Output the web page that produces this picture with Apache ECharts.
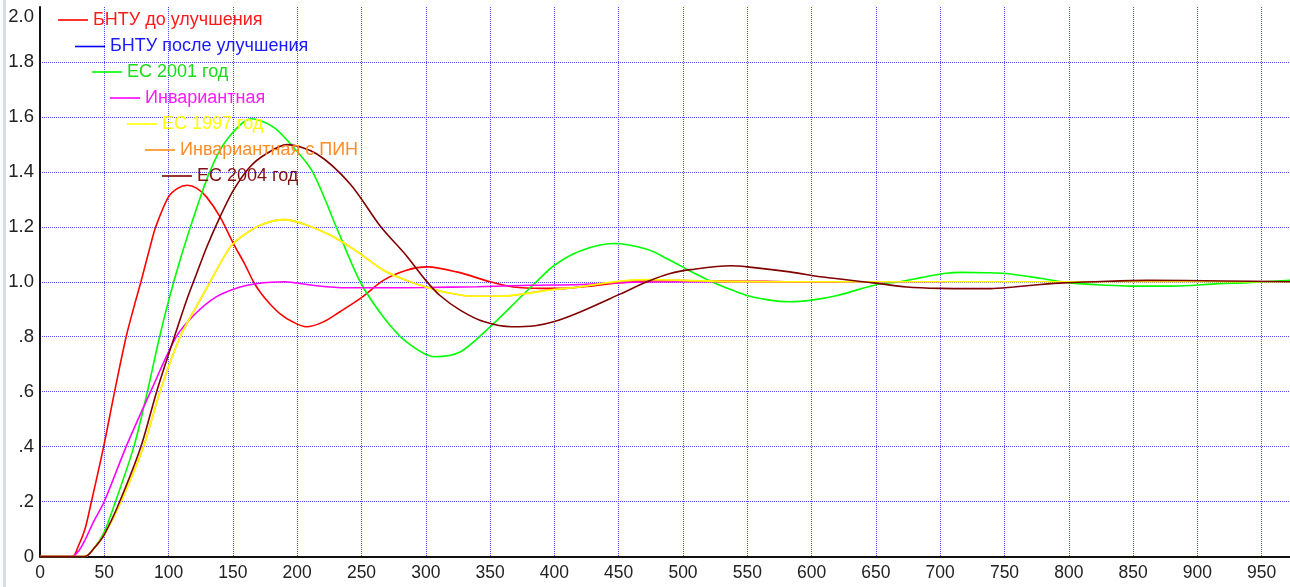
<!DOCTYPE html>
<html>
<head>
<meta charset="utf-8">
<script src="https://cdn.jsdelivr.net/npm/echarts@6/dist/echarts.min.js"></script>
<style>
html,body{margin:0;padding:0;background:#fff;}
#chart{width:1290px;height:587px;}
</style>
</head>
<body>
<div id="chart"></div>
<script>
// ---- data (x = time, y = response) ----
const seriesNames = ['БНТУ до улучшения','БНТУ после улучшения','ЕС 2001 год','Инвариантная','ЕС 1997 год','Инвариантная с ПИН','ЕС 2004 год'];
const seriesColors = ['#ff0000','#0000ff','#00ff00','#ff00ff','#ffff00','#ff8c1a','#800000'];
const legendTextColors = ['#ff1a1a','#1a1aff','#1adb1a','#ff1aff','#ffff00','#ff8c28','#801010'];

const xTickLabels = ['0','50','100','150','200','250','300','350','400','450','500','550','600','650','700','750','800','850','900','950'];
const yTickLabels = ['0','.2','.4','.6','.8','1.0','1.2','1.4','1.6','1.8','2.0'];

const bntuBefore = [[0,0],[25,0],[30,0.04],[35,0.1],[40,0.2],[49.5,0.4],[58,0.6],[67,0.8],[74.5,0.933],[78.5,1.0],[85.6,1.127],[90,1.2],[99.8,1.308],[107,1.34],[114.5,1.351],[122,1.34],[129.6,1.308],[140,1.236],[150.4,1.139],[159,1.066],[166,1.0],[172,0.957],[179,0.918],[187,0.882],[196,0.855],[207,0.836],[220,0.853],[233,0.89],[250,0.942],[267,1.005],[285,1.042],[301,1.054],[324,1.036],[350,1.0],[368,0.981],[390,0.976],[407,0.976],[430,0.985],[450,0.996],[480,1.003],[530,1.003],[580,1.0],[621,0.998]];
const bntuAfter = [];
const ec2001 = [[0,0],[35,0],[42,0.03],[50,0.09],[58.7,0.2],[73,0.4],[83.5,0.6],[93,0.8],[104,1.0],[117,1.2],[132,1.4],[145,1.515],[164.6,1.593],[181.5,1.563],[197,1.49],[212,1.4],[233,1.17],[249,1.0],[267,0.872],[285,0.781],[307,0.727],[327,0.745],[350,0.836],[375,0.95],[386,1.0],[400,1.06],[420,1.112],[446,1.139],[472,1.118],[490,1.078],[505,1.04],[521,1.003],[532,0.981],[549,0.951],[565,0.935],[583,0.927],[600,0.933],[620,0.95],[651,0.99],[669,1.0],[685,1.015],[703,1.03],[717,1.034],[735,1.033],[751,1.03],[779,1.012],[801,0.996],[830,0.987],[847,0.984],[881,0.984],[916,0.993],[936,0.996],[972,1.005]];
const invariant = [[0,0],[25,0],[30,0.02],[35,0.06],[42,0.13],[50,0.2],[67,0.4],[86,0.6],[106,0.8],[120,0.88],[137,0.945],[155,0.98],[168,0.993],[190,1.0],[212,0.987],[238,0.978],[264,0.978],[300,0.979],[340,0.982],[381,0.987],[420,0.99],[446,0.996],[500,1.0],[704,1.0]];
const ec1997 = [[0,0],[35,0],[42,0.03],[50,0.08],[63,0.2],[80.5,0.4],[93.3,0.6],[109,0.8],[124.4,0.933],[130,0.98],[148,1.127],[160,1.175],[173.6,1.21],[190,1.226],[205,1.21],[225.5,1.17],[245,1.115],[267,1.042],[285,1.005],[300,0.981],[315,0.962],[337,0.947],[358,0.947],[378,0.957],[400,0.972],[420,0.981],[446,1.0],[472,1.008],[500,1.005],[560,1.0],[972,1.0]];
const invariantPin = [[0,0],[35,0],[42,0.03],[50,0.08],[63,0.2],[80.5,0.4],[93.3,0.6],[109,0.8],[124.4,0.933],[130,0.98],[148,1.127],[160,1.175],[173.6,1.21],[190,1.226],[205,1.21],[225.5,1.17],[245,1.115],[267,1.042],[285,1.005],[300,0.981],[315,0.962],[337,0.947],[358,0.947],[378,0.957],[395,0.97],[410,0.976],[425,0.985],[450,1.0],[462,1.005],[496,1.005],[530,1.0],[640,1.0]];
const ec2004 = [[0,0],[35,0],[42,0.03],[50,0.08],[62,0.2],[78.5,0.4],[90.7,0.6],[104.5,0.8],[114,0.933],[121,1.02],[130,1.13],[140,1.236],[150,1.33],[163,1.417],[176,1.466],[192,1.499],[215,1.466],[241,1.357],[265,1.2],[284,1.1],[300,1.005],[311,0.95],[327,0.896],[345,0.855],[367,0.836],[385,0.84],[400,0.855],[420,0.89],[451,0.955],[472,1.0],[490,1.03],[506,1.044],[537,1.058],[550,1.054],[583,1.036],[609,1.017],[648,0.996],[674,0.981],[700,0.976],[739,0.975],[757,0.981],[778,0.99],[796,0.996],[830,1.002],[861,1.005],[920,1.003],[972,1.0]];

const seriesData = [bntuBefore, bntuAfter, ec2001, invariant, ec1997, invariantPin, ec2004];
// drawing order (later = on top)
const drawOrder = [0,1,2,3,5,4,6];

const FONT = "'Liberation Sans', Arial, sans-serif";

const legendPos = [[58,20],[75,46.5],[92,72],[110,98],[127,124],[145,150],[162,176]];

const chart = echarts.init(document.getElementById('chart'), null, {renderer:'canvas'});

const series = drawOrder.map(i => ({
  name: seriesNames[i],
  type: 'line',
  data: seriesData[i],
  showSymbol: false,
  symbol: 'none',
  smooth: 0.3,
  lineStyle: { color: seriesColors[i], width: 1.6 },
  itemStyle: { color: seriesColors[i] },
  animation: false,
  z: 3
}));

const legends = seriesNames.map((n, i) => ({
  left: legendPos[i][0],
  top: legendPos[i][1] - 11,
  padding: 0,
  itemGap: 0,
  icon: 'rect',
  itemWidth: 30,
  itemHeight: 1.6,
  selectedMode: false,
  data: [{ name: n, itemStyle: { color: seriesColors[i] }, textStyle: { color: legendTextColors[i] } }],
  textStyle: { fontSize: 18, fontFamily: FONT, lineHeight: 22, color: legendTextColors[i] }
}));

chart.setOption({
  backgroundColor: '#ffffff',
  animation: false,
  legend: legends,
  grid: { left: 40, right: 0, top: 7, bottom: 30.5, containLabel: false },
  graphic: [{ type: 'rect', left: 3, top: 0, shape: { width: 3, height: 587 }, style: { fill: '#d6dee9' }, silent: true }],
  xAxis: {
    type: 'value', min: 0, max: 972, interval: 50,
    axisLine: { show: true, onZero: false, lineStyle: { color: '#111', width: 2 } },
    axisTick: { show: false },
    axisLabel: { showMaxLabel: false, margin: 8, fontSize: 17.5, fontFamily: FONT, color: '#222',
      formatter: v => { const k = Math.round(v / 50); return (Math.abs(v - k*50) < 1e-6 && xTickLabels[k] !== undefined) ? xTickLabels[k] : ''; } },
    splitLine: { show: true, showMinLine: false, showMaxLine: false, lineStyle: { color: '#2a2aff', width: 1, type: [1, 1], opacity: 0.85 } }
  },
  yAxis: {
    type: 'value', min: 0, max: 2, interval: 0.2,
    axisLine: { show: true, onZero: false, lineStyle: { color: '#111', width: 2 } },
    axisTick: { show: false },
    axisLabel: { margin: 6, fontSize: 18.5, fontFamily: FONT, color: '#222', verticalAlignMaxLabel: 'top',
      formatter: v => { const k = Math.round(v / 0.2); return yTickLabels[k] !== undefined ? yTickLabels[k] : ''; } },
    splitLine: { show: true, showMinLine: false, showMaxLine: false, lineStyle: { color: '#2a2aff', width: 1, type: [1, 1], opacity: 0.85 } }
  },
  series: series
});
</script>
</body>
</html>
